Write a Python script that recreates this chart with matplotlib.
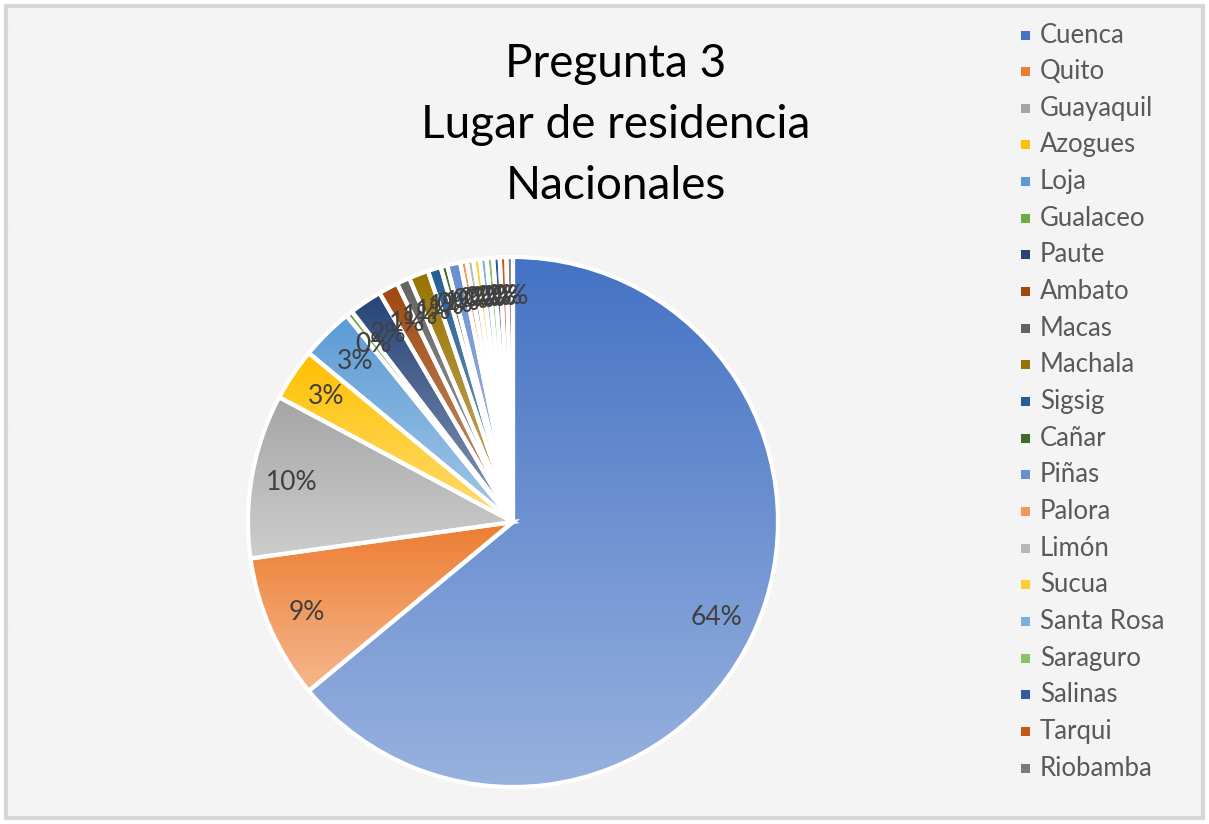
import numpy as np
import matplotlib
matplotlib.use("Agg")
import matplotlib.pyplot as plt
from matplotlib.patches import Rectangle
from matplotlib.colors import to_rgb

categories = ["Cuenca", "Quito", "Guayaquil", "Azogues", "Loja", "Gualaceo", "Paute",
              "Ambato", "Macas", "Machala", "Sigsig", "Cañar", "Piñas", "Palora",
              "Limón", "Sucua", "Santa Rosa", "Saraguro", "Salinas", "Tarqui", "Riobamba"]
counts = [160, 22, 25, 8, 8, 1, 5, 3, 2, 3, 2, 1, 2, 1, 1, 1, 1, 1, 1, 1, 1]
colors = ["#4472C4", "#ED7D31", "#A5A5A5", "#FFC000", "#5B9BD5", "#70AD47",
          "#264478", "#9E480E", "#636363", "#997300", "#255E91", "#43682B",
          "#698ED0", "#F1975A", "#B7B7B7", "#FFCD33", "#7CAFDD", "#8CC168",
          "#335AA1", "#C65911", "#7B7B7B"]
title = "Pregunta 3\nLugar de residencia\nNacionales"

FONT = "Lato"
W, H = 1209, 824
fig = plt.figure(figsize=(W / 100, H / 100), dpi=100)
fig.patch.set_facecolor("white")

# background hatch + border
bg = fig.add_axes([0, 0, 1, 1])
bg.set_xlim(0, W)
bg.set_ylim(H, 0)
bg.axis("off")
plt.rcParams["hatch.color"] = "#f0f0f0"
plt.rcParams["hatch.linewidth"] = 1.0
bg.add_patch(Rectangle((6, 6), W - 12, H - 12, facecolor="white",
                       edgecolor="#f0f0f0", hatch="\\" * 12, lw=0))
bg.add_patch(Rectangle((6, 6), W - 12, H - 12, facecolor="none",
                       edgecolor="#d6d6d6", lw=3))

# pie axes
cx, cy, r = 513, 522, 265
ax = fig.add_axes([(cx - r) / W, (H - cy - r) / H, 2 * r / W, 2 * r / H])
ax.patch.set_alpha(0)
wedges, texts, autotexts = ax.pie(
    counts, colors=colors, startangle=90, counterclock=False,
    autopct="%1.0f%%", pctdistance=0.85,
    textprops=dict(color="#404040", fontsize=19, family=FONT),
    wedgeprops=dict(edgecolor="white", linewidth=3))
ax.set_xlim(-1, 1)
ax.set_ylim(-1, 1)
ax.axis("off")

def lighten(c, f):
    c = np.array(to_rgb(c))
    return c + (1 - c) * f

for w, c in zip(wedges, colors):
    ext = w.get_path().get_extents()
    top = lighten(c, 0.0)
    bot = lighten(c, 0.45)
    t = np.linspace(0, 1, 256)[:, None]
    grad = top[None, :] * (1 - t) + bot[None, :] * t
    img = np.repeat(grad[:, None, :], 2, axis=1)
    im = ax.imshow(img, extent=[ext.x0, ext.x1, ext.y0, ext.y1], origin="upper",
                   aspect="auto", zorder=1, interpolation="bilinear")
    im.set_clip_path(w)
    w.set_facecolor("none")
    w.set_zorder(2)
for t in autotexts:
    t.set_zorder(3)
ax.set_xlim(-1, 1)
ax.set_ylim(-1, 1)

# title
fig.text(616 / W, 1 - 125 / H, title, ha="center", va="center",
         fontsize=33, family=FONT, color="#000000", linespacing=1.55)

# legend
y0, dy = 35, 36.65
for i, (name, c) in enumerate(zip(categories, colors)):
    y = y0 + i * dy
    bg.add_patch(Rectangle((1021, y - 4.5), 9, 9, facecolor=c, edgecolor="none"))
    bg.text(1040, y, name, ha="left", va="center", fontsize=18.5,
            family=FONT, color="#595959")

fig.savefig("out.png", dpi=100)
